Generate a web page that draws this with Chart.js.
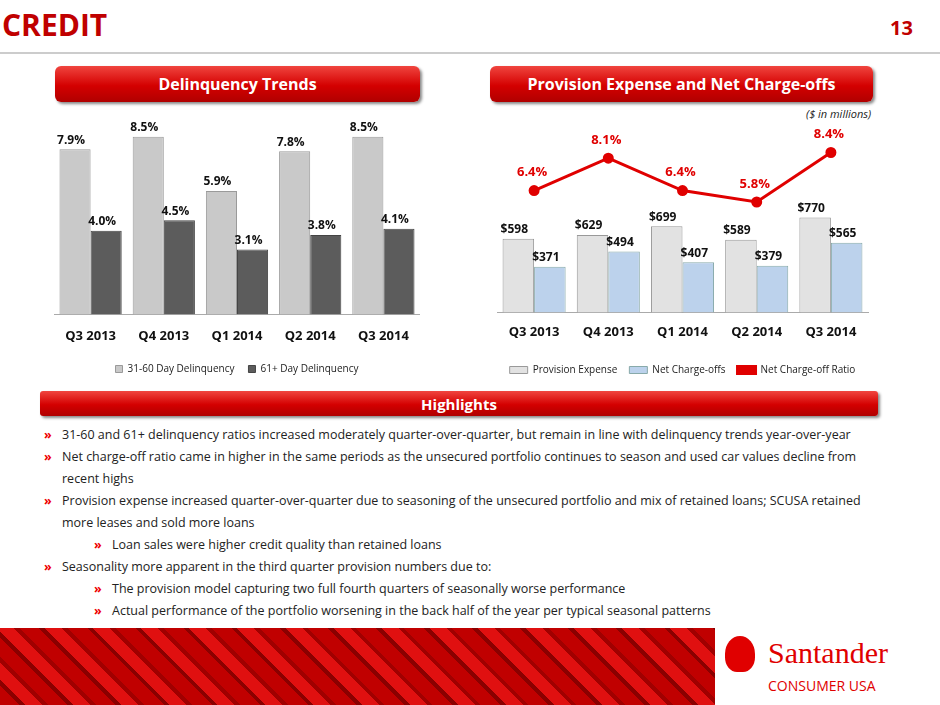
<!DOCTYPE html>
<html><head><meta charset="utf-8">
<script src="https://cdn.jsdelivr.net/npm/chart.js@4.4.0/dist/chart.umd.min.js"></script>
<style>
body{margin:0;width:940px;height:705px;position:relative;overflow:hidden;background:#fff;font-family:Calibri,"Liberation Sans Narrow","Open Sans",sans-serif;}
.t{position:absolute;}
.hdr{position:absolute;height:36px;border-radius:6px;background:linear-gradient(#f0453f,#d40000 55%,#b00000);color:#fff;font:bold 16px "Open Sans",sans-serif;display:flex;align-items:center;justify-content:center;box-shadow:2px 2px 3px #888;}
ul{position:absolute;left:40px;top:424px;margin:0;padding:0;list-style:none;font:12.5px "Open Sans",sans-serif;color:#222;width:840px;}
li{position:relative;padding-left:22px;line-height:22px;}
li:before{content:"»";position:absolute;left:4px;color:#e00;font-weight:bold;}
li.s{padding-left:72px;}li.s:before{left:54px;}
.foot{position:absolute;left:0;top:628px;width:940px;height:77px;background:
repeating-linear-gradient(45deg,#c00000 0 14px,#8a0000 14px 18px,#e01010 18px 30px,#a00000 30px 34px);}
</style></head><body>
<div class="t" style="left:2px;top:4px;font:bold 30px 'Open Sans',sans-serif;color:#c00000;">CREDIT</div>
<div class="t" style="left:890px;top:14px;font:bold 20px 'Open Sans',sans-serif;color:#c00000;">13</div>
<div class="t" style="left:0;top:52px;width:940px;height:2px;background:#ccc"></div>
<div class="hdr" style="left:55px;top:66px;width:365px;">Delinquency Trends</div>
<div class="hdr" style="left:490px;top:66px;width:383px;">Provision Expense and Net Charge-offs</div>
<div class="t" style="left:806px;top:106px;font:italic 11px 'Open Sans',sans-serif;color:#222;">($ in millions)</div>
<div class="t" style="left:54px;top:122px;width:366px;height:262px;"><canvas id="c1"></canvas></div>
<div class="t" style="left:490px;top:112px;width:385px;height:273px;"><canvas id="c2"></canvas></div>
<div class="hdr" style="left:40px;top:391px;width:838px;height:25px;border-radius:3px;font-size:15px;">Highlights</div>
<ul>
<li>31-60 and 61+ delinquency ratios increased moderately quarter-over-quarter, but remain in line with delinquency trends year-over-year</li>
<li>Net charge-off ratio came in higher in the same periods as the unsecured portfolio continues to season and used car values decline from recent highs</li>
<li>Provision expense increased quarter-over-quarter due to seasoning of the unsecured portfolio and mix of retained loans; SCUSA retained more leases and sold more loans</li>
<li class="s">Loan sales were higher credit quality than retained loans</li>
<li>Seasonality more apparent in the third quarter provision numbers due to:</li>
<li class="s">The provision model capturing two full fourth quarters of seasonally worse performance</li>
<li class="s">Actual performance of the portfolio worsening in the back half of the year per typical seasonal patterns</li>
</ul>
<div class="foot"></div>
<div class="t" style="left:715px;top:628px;width:225px;height:77px;background:#fff;"></div>
<div class="t" style="left:725px;top:636px;width:30px;height:36px;border-radius:50% 50% 40% 40%;background:#e00000;"></div>
<div class="t" style="left:768px;top:636px;font:30px 'Liberation Serif',serif;color:#e00000;">Santander</div>
<div class="t" style="left:768px;top:676px;font:14px 'Open Sans',sans-serif;color:#e00000;">CONSUMER USA</div>
<script>
const categories=["Q3 2013","Q4 2013","Q1 2014","Q2 2014","Q3 2014"];
const delinq3160=[7.9,8.5,5.9,7.8,8.5];
const delinq61=[4.0,4.5,3.1,3.8,4.1];
const provision=[598,629,699,589,770];
const chargeoffs=[371,494,407,379,565];
const ncoRatio=[6.4,8.1,6.4,5.8,8.4];
const FF="'Open Sans',sans-serif";
const labels={id:'lbl',afterDatasetsDraw(ch,a,opt){const c=ch.ctx;ch.data.datasets.forEach((ds,i)=>{const m=ch.getDatasetMeta(i);m.data.forEach((el,j)=>{c.save();c.font=(ds.type==='line'?"bold 13px ":"bold 12px ")+FF;c.textAlign='center';c.fillStyle=ds.lblColor||'#111';let t=ds.fmt(ds.data[j]);let dx=ds.type==='line'?-2:-4;c.fillText(t,el.x+dx,el.y-(ds.type==='line'?18:9));c.restore();});});}};
Chart.defaults.font.family=FF;Chart.defaults.animation=false;
const common={responsive:true,maintainAspectRatio:false,layout:{padding:{top:0,left:0,right:0}},
plugins:{legend:{position:'bottom',labels:{boxWidth:7,boxHeight:7,font:{size:10},color:'#222',padding:12}},tooltip:{enabled:false}}};
new Chart(c1,{type:'bar',data:{labels:categories,datasets:[
{label:'31-60 Day Delinquency',data:delinq3160,backgroundColor:'#c9c9c9',borderColor:'#9a9a9a',borderWidth:1,fmt:v=>v.toFixed(1)+'%'},
{label:'61+ Day Delinquency',data:delinq61,backgroundColor:'#5c5c5c',borderColor:'#444',borderWidth:1,fmt:v=>v.toFixed(1)+'%'}]},
options:{...common,datasets:{bar:{categoryPercentage:0.85,barPercentage:1}},
plugins:{...common.plugins,legend:{...common.plugins.legend,labels:{...common.plugins.legend.labels,padding:14}}},
scales:{y:{display:false,min:0,max:9.2},x:{grid:{display:false},border:{color:'#aaa'},ticks:{font:{size:13,weight:'bold'},color:'#111',padding:6}}}},plugins:[labels]});
new Chart(c2,{data:{labels:categories,datasets:[
{type:'line',label:'Net Charge-off Ratio',data:ncoRatio,yAxisID:'y2',borderColor:'#e00000',backgroundColor:'#e00000',borderWidth:3,pointRadius:4,lblColor:'#e00000',fmt:v=>v.toFixed(1)+'%',order:0},
{type:'bar',label:'Provision Expense',data:provision,backgroundColor:'#e2e2e2',borderColor:'#999',borderWidth:1,fmt:v=>'$'+v,order:1},
{type:'bar',label:'Net Charge-offs',data:chargeoffs,backgroundColor:'#bcd2ec',borderColor:'#8aa',borderWidth:1,fmt:v=>'$'+v,order:1}]},
options:{...common,datasets:{bar:{categoryPercentage:0.85,barPercentage:1}},
plugins:{...common.plugins,legend:{...common.plugins.legend,labels:{...common.plugins.legend.labels,boxWidth:18,sort:(a,b)=>[1,2,0].indexOf(a.datasetIndex)-[1,2,0].indexOf(b.datasetIndex),padding:12}}},
scales:{y:{display:false,min:0,max:1570},y2:{display:false,min:0,max:10.16},x:{afterFit:s=>{s.height+=9;},grid:{display:false},border:{color:'#aaa'},ticks:{font:{size:13,weight:'bold'},color:'#111',padding:4}}}},plugins:[labels]});
</script></body></html>
